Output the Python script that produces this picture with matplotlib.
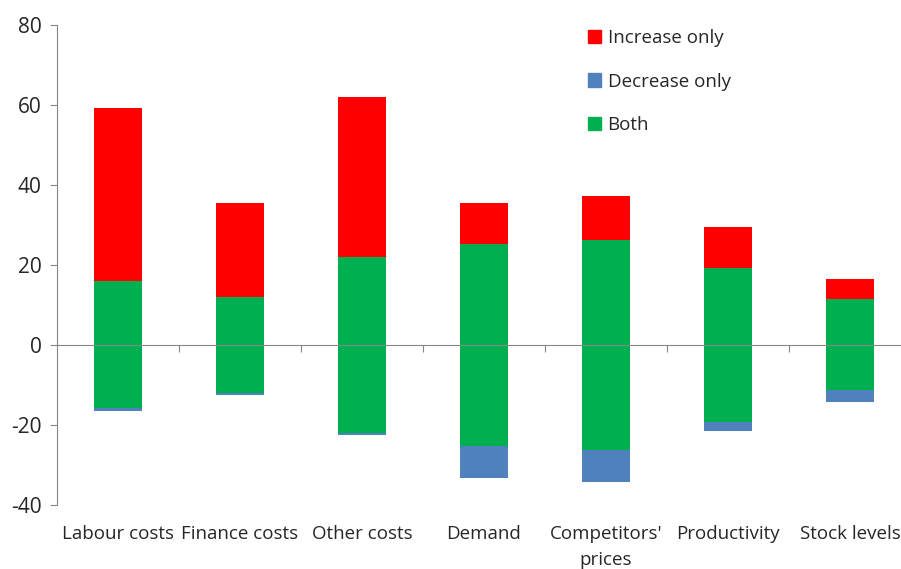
import numpy as np
import matplotlib.pyplot as plt
from matplotlib.patches import Patch

plt.rcParams['font.family'] = ['Open Sans', 'DejaVu Sans']
plt.rcParams['axes.unicode_minus'] = False

categories = ['Labour costs', 'Finance costs', 'Other costs', 'Demand',
              "Competitors'\nprices", 'Productivity', 'Stock levels']
both = [15.8, 12.0, 22.0, 25.2, 26.2, 19.2, 11.3]
increase_only = [43.3, 23.5, 40.0, 10.3, 11.0, 10.3, 5.0]
decrease_only = [0.8, 0.6, 0.5, 8.2, 8.2, 2.4, 2.9]

red = '#FF0000'
blue = '#4F81BD'
green = '#00B050'
grey = '#868686'
txt = '#262626'

x = np.arange(len(categories))
both = np.array(both)
w = 0.4

fig = plt.figure(figsize=(9.01, 5.69), dpi=100)
ax = fig.add_axes([57 / 901, 0.113, (911 - 57) / 901, 0.9566 - 0.113])

# "both" sits symmetric around zero, increases stacked above, decreases below
ax.bar(x, both, w, color=green, zorder=2)
ax.bar(x, -both, w, color=green, zorder=2)
ax.bar(x, increase_only, w, bottom=both, color=red, zorder=2)
ax.bar(x, -np.array(decrease_only), w, bottom=-both, color=blue, zorder=2)

ax.set_xlim(-0.5, len(categories) - 0.5)
ax.set_ylim(-40, 80)
ax.set_yticks(range(-40, 81, 20))

for s in ['top', 'right']:
    ax.spines[s].set_visible(False)
ax.spines['left'].set_color(grey)
ax.spines['bottom'].set_color(grey)
ax.spines['bottom'].set_position(('data', 0))
ax.spines['bottom'].set_zorder(3)

ax.set_xticks(x[:-1] + 0.5)
ax.set_xticklabels([])
ax.tick_params(axis='x', direction='out', length=5, color=grey)
ax.tick_params(axis='y', direction='out', length=5, color=grey,
               labelsize=15, labelcolor=txt, pad=6)

for xi, lab in zip(x, categories):
    ax.text(xi, -0.042, lab, transform=ax.get_xaxis_transform(),
            ha='center', va='top', fontsize=13.5, color=txt, linespacing=1.55)

handles = [Patch(color=red, label='Increase only'),
           Patch(color=blue, label='Decrease only'),
           Patch(color=green, label='Both')]
fig.legend(handles=handles, loc='upper left', bbox_to_anchor=(571 / 901, 1 - 12 / 569),
           frameon=False, fontsize=13.5, handlelength=0.7, handleheight=0.7,
           handletextpad=0.35, labelspacing=1.37, labelcolor=txt)

fig.savefig('out.png', dpi=100)
